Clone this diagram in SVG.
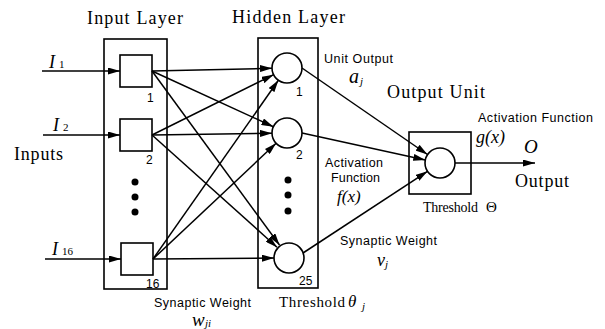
<svg xmlns="http://www.w3.org/2000/svg" width="605" height="329" viewBox="0 0 605 329">
<style>
.bx{fill:none;stroke:#000;stroke-width:1.6}
.nd{fill:#fff;stroke:#000;stroke-width:1.6}
.ln{fill:none;stroke:#000;stroke-width:1.5}
.ser{font-family:"Liberation Serif","Times New Roman",serif;fill:#000}
.big{font-size:18px}
.san{font-family:"Liberation Sans",Arial,sans-serif;font-size:12.5px;fill:#000}
.num{font-family:"Liberation Sans",Arial,sans-serif;font-size:12px;fill:#000}
.it{font-family:"Liberation Serif","Times New Roman",serif;font-style:italic;fill:#000}
</style>
<defs>
<marker id="ah" markerUnits="userSpaceOnUse" markerWidth="12" markerHeight="7" refX="12" refY="3.5" orient="auto">
<path d="M0,0 L12,3.5 L0,7 z" fill="#000"/>
</marker>
</defs>
<rect width="605" height="329" fill="#fff"/>

<g id="input-layer">
<rect class="bx" x="104" y="39" width="63" height="250"/>
<text class="ser big" x="87" y="24" textLength="96" lengthAdjust="spacing">Input Layer</text>
<circle cx="135" cy="182" r="3.5" fill="#000"/>
<circle cx="135" cy="197" r="3.5" fill="#000"/>
<circle cx="135" cy="212" r="3.5" fill="#000"/>
</g>
<g id="in1"><rect class="nd" x="120" y="55" width="32" height="32"/><text class="num" x="147" y="102">1</text></g>
<g id="in2"><rect class="nd" x="120" y="119" width="32" height="32"/><text class="num" x="146" y="164">2</text></g>
<g id="in16"><rect class="nd" x="121" y="243" width="32" height="32"/><text class="num" x="146" y="288">16</text></g>

<g id="hidden-layer">
<rect class="bx" x="258" y="38" width="60" height="250"/>
<text class="ser big" x="232" y="23" textLength="113" lengthAdjust="spacing">Hidden Layer</text>
<circle cx="288" cy="180" r="3.5" fill="#000"/>
<circle cx="288" cy="195" r="3.5" fill="#000"/>
<circle cx="288" cy="211" r="3.5" fill="#000"/>
<text class="ser" font-size="15" x="279" y="307" textLength="66" lengthAdjust="spacing">Threshold</text>
<text class="it" font-size="17" x="348" y="307">θ</text>
<text class="it" font-size="11" x="362" y="310">j</text>
</g>
<g id="h1"><circle class="nd" cx="287" cy="68" r="15"/><text class="num" x="296" y="96">1</text></g>
<g id="h2"><circle class="nd" cx="287" cy="133" r="15"/><text class="num" x="296" y="159">2</text></g>
<g id="h25"><circle class="nd" cx="289" cy="258" r="15"/><text class="num" x="299" y="285">25</text></g>

<g id="output-unit">
<rect class="bx" x="409" y="132" width="62" height="62"/>
<circle class="nd" cx="440" cy="163" r="15"/>
<text class="ser big" x="387" y="98" textLength="98" lengthAdjust="spacing">Output Unit</text>
<text class="ser" font-size="14" x="423" y="212" textLength="55" lengthAdjust="spacing">Threshold</text>
<text class="ser" font-size="15" x="486" y="212">Θ</text>
<text class="san" x="478" y="122" textLength="115" lengthAdjust="spacing">Activation Function</text>
<text class="it" font-size="18" x="476" y="143">g(x)</text>
</g>

<g id="inputs-label">
<text class="ser big" x="14" y="160" textLength="49" lengthAdjust="spacing">Inputs</text>
<text class="it" font-size="18" x="49" y="68">I</text><text class="ser" font-size="11" x="59" y="68">1</text>
<text class="it" font-size="18" x="53" y="131">I</text><text class="ser" font-size="11" x="63" y="131">2</text>
<text class="it" font-size="18" x="52" y="255">I</text><text class="ser" font-size="11" x="62" y="255">16</text>
</g>

<g id="output-label">
<text class="it" font-size="19" x="524" y="153">O</text>
<text class="ser big" x="515" y="187" textLength="54" lengthAdjust="spacing">Output</text>
</g>

<g id="annotations">
<text class="san" x="324" y="63" textLength="69" lengthAdjust="spacing">Unit Output</text>
<text class="it" font-size="20" x="349" y="83">a</text><text class="it" font-size="11" x="360" y="85">j</text>
<text class="san" x="325" y="167" textLength="58" lengthAdjust="spacing">Activation</text>
<text class="san" x="331" y="182" textLength="49" lengthAdjust="spacing">Function</text>
<text class="it" font-size="17" x="337" y="202">f(x)</text>
<text class="san" x="340" y="245" textLength="97" lengthAdjust="spacing">Synaptic Weight</text>
<text class="it" font-size="18" x="377" y="266">v</text><text class="it" font-size="11" x="385" y="268">j</text>
<text class="san" x="154" y="307" textLength="97" lengthAdjust="spacing">Synaptic Weight</text>
<text class="it" font-size="19" x="192" y="326">w</text><text class="it" font-size="11" x="205" y="327">ji</text>
</g>

<g id="connectors">
<line class="ln" x1="42" y1="71" x2="120" y2="71" marker-end="url(#ah)"/>
<line class="ln" x1="43" y1="135" x2="120" y2="135" marker-end="url(#ah)"/>
<line class="ln" x1="45" y1="259" x2="121" y2="259" marker-end="url(#ah)"/>

<line class="ln" x1="152" y1="71" x2="272" y2="68.3" marker-end="url(#ah)"/>
<line class="ln" x1="152" y1="71" x2="273.4" y2="126.7" marker-end="url(#ah)"/>
<line class="ln" x1="152" y1="71" x2="279.5" y2="245" marker-end="url(#ah)"/>
<line class="ln" x1="152" y1="135" x2="273.6" y2="74.7" marker-end="url(#ah)"/>
<line class="ln" x1="152" y1="135" x2="272" y2="133.2" marker-end="url(#ah)"/>
<line class="ln" x1="152" y1="135" x2="277" y2="247.2" marker-end="url(#ah)"/>
<line class="ln" x1="153" y1="259" x2="278.4" y2="80.3" marker-end="url(#ah)"/>
<line class="ln" x1="153" y1="259" x2="276.1" y2="143.3" marker-end="url(#ah)"/>
<line class="ln" x1="153" y1="259" x2="274" y2="258.1" marker-end="url(#ah)"/>

<line class="ln" x1="302" y1="68" x2="427.5" y2="154.5" marker-end="url(#ah)"/>
<line class="ln" x1="302" y1="133" x2="425.3" y2="159.9" marker-end="url(#ah)"/>
<line class="ln" x1="303" y1="253" x2="427.5" y2="171.3" marker-end="url(#ah)"/>

<line class="ln" x1="455" y1="163" x2="535" y2="163" marker-end="url(#ah)"/>
</g>
</svg>
